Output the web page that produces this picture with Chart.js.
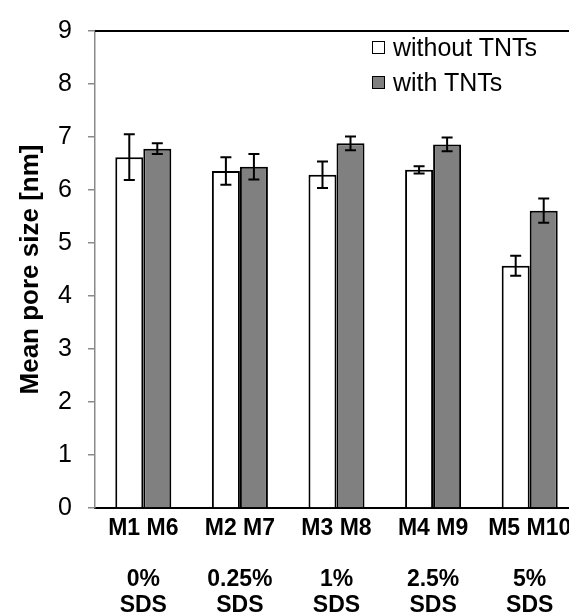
<!DOCTYPE html>
<html lang="en">
<head>
  <meta charset="UTF-8">
  <title>Mean pore size</title>
  <script src="https://cdn.jsdelivr.net/npm/chart.js"></script>
  <style>
    body {
      margin: 0;
      overflow: hidden;
      background: #fff;
      font-family: "Liberation Sans", Arial, sans-serif;
    }
    #wrap {
      position: relative;
      width: 584px;
      height: 615px;
    }
    #legend {
      position: absolute;
      left: 372px;
      top: 30px;
      font-size: 25px;
      color: #000;
    }
    #legend div {
      display: flex;
      align-items: center;
      height: 35px;
    }
    #legend span.box {
      display: inline-block;
      width: 11px;
      height: 11px;
      border: 1.5px solid #000;
      margin-right: 8px;
    }
  </style>
</head>
<body>
  <div id="wrap">
    <canvas id="poreChart"></canvas>
    <div id="legend"></div>
  </div>

  <script>
    const samples = ['M1 M6', 'M2 M7', 'M3 M8', 'M4 M9', 'M5 M10'];
    const sdsLabels = [['0%', 'SDS'], ['0.25%', 'SDS'], ['1%', 'SDS'], ['2.5%', 'SDS'], ['5%', 'SDS']];
    const withoutTNTs = [6.62, 6.36, 6.29, 6.38, 4.57];
    const withoutErr = [0.43, 0.26, 0.25, 0.07, 0.19];
    const withTNTs = [6.78, 6.44, 6.88, 6.86, 5.61];
    const withErr = [0.10, 0.24, 0.13, 0.13, 0.23];
    const yTicks = [0, 1, 2, 3, 4, 5, 6, 7, 8, 9];

    const font = '"Liberation Sans", Arial, sans-serif';

    // error bars, drawn from the y scale
    const errorBars = {
      id: 'errorBars',
      afterDatasetsDraw(chart) {
        const ctx = chart.ctx;
        const y = chart.scales.y;
        ctx.save();
        ctx.strokeStyle = '#000';
        ctx.lineWidth = 2;
        chart.data.datasets.forEach((ds, i) => {
          const meta = chart.getDatasetMeta(i);
          meta.data.forEach((bar, j) => {
            const v = ds.data[j], e = ds.errors[j];
            const top = y.getPixelForValue(v + e);
            const bot = y.getPixelForValue(v - e);
            const x = bar.x;
            ctx.beginPath();
            ctx.moveTo(x, top); ctx.lineTo(x, bot);
            ctx.moveTo(x - 5.5, top); ctx.lineTo(x + 5.5, top);
            ctx.moveTo(x - 5.5, bot); ctx.lineTo(x + 5.5, bot);
            ctx.stroke();
          });
        });
        ctx.restore();
      }
    };

    const topBorder = {
      id: 'topBorder',
      afterDraw(chart) {
        const a = chart.chartArea;
        const ctx = chart.ctx;
        ctx.save();
        ctx.strokeStyle = '#000';
        ctx.lineWidth = 2;
        ctx.beginPath();
        ctx.moveTo(a.left, a.top);
        ctx.lineTo(a.right, a.top);
        ctx.stroke();
        ctx.restore();
      }
    };

    const chart = new Chart(document.getElementById('poreChart'), {
      type: 'bar',
      data: {
        labels: samples,
        datasets: [
          {
            label: 'without TNTs',
            data: withoutTNTs,
            errors: withoutErr,
            backgroundColor: '#ffffff',
            borderColor: '#000',
            borderWidth: 2
          },
          {
            label: 'with TNTs',
            data: withTNTs,
            errors: withErr,
            backgroundColor: '#808080',
            borderColor: '#000',
            borderWidth: 2
          }
        ]
      },
      options: {
        responsive: true,
        maintainAspectRatio: false,
        animation: false,
        categoryPercentage: 0.58,
        barPercentage: 1.0,
        layout: { padding: { top: 25, right: 6, bottom: 0, left: 0 } },
        plugins: {
          legend: { display: false },
          tooltip: { enabled: false }
        },
        scales: {
          x: {
            grid: { display: false, drawTicks: false },
            border: { color: '#000', width: 2 },
            ticks: {
              color: '#000',
              padding: 7,
              maxRotation: 0,
              autoSkip: false,
              font: { family: font, size: 23, weight: 'bold' }
            },
            afterFit(s) { s.height = 45; }
          },
          sds: {
            type: 'category',
            position: 'bottom',
            labels: sdsLabels,
            offset: true,
            grid: { display: false, drawTicks: false },
            border: { display: false },
            ticks: {
              color: '#000',
              padding: 14,
              maxRotation: 0,
              autoSkip: false,
              font: { family: font, size: 23, weight: 'bold', lineHeight: 1.13 }
            },
            afterFit(s) { s.height = 62; }
          },
          y: {
            min: 0,
            max: 9,
            afterBuildTicks(s) { s.ticks = yTicks.map(v => ({ value: v })); },
            grid: {
              drawOnChartArea: false,
              drawTicks: true,
              tickLength: 7,
              color: '#8a8a8a',
              lineWidth: 1.5
            },
            border: { color: '#8a8a8a', width: 1.5 },
            ticks: {
              color: '#000',
              padding: 16,
              font: { family: font, size: 25 }
            },
            title: {
              display: true,
              text: 'Mean pore size [nm]',
              color: '#000',
              padding: { top: 15, bottom: 0 },
              font: { family: font, size: 26, weight: 'bold' }
            },
            afterFit(s) { s.width = 95; }
          }
        }
      },
      plugins: [errorBars, topBorder]
    });

    // html legend from the datasets
    const legend = document.getElementById('legend');
    chart.data.datasets.forEach(ds => {
      const row = document.createElement('div');
      row.innerHTML = `<span class="box" style="background:${ds.backgroundColor}"></span>${ds.label}`;
      legend.appendChild(row);
    });
  </script>
</body>
</html>
